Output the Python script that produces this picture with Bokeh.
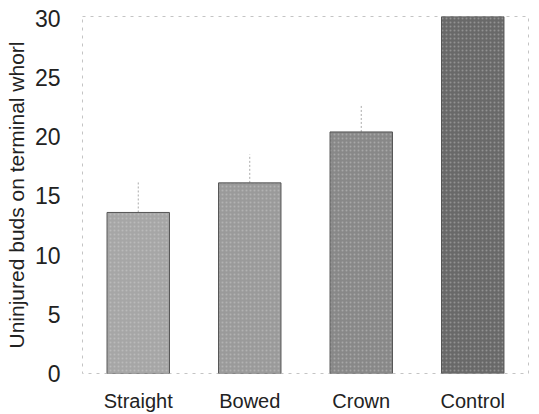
from bokeh.plotting import figure
from bokeh.models import Range1d, FactorRange, ColumnDataSource
from bokeh.embed import file_html
from bokeh.resources import INLINE

categories = ["Straight", "Bowed", "Crown", "Control"]
values = [13.6, 16.1, 20.4, 30.2]
err_upper = [16.2, 18.5, 22.7, 30.2]
bar_colors = ["#a6a6a6", "#9a9a9a", "#888888", "#696969"]
y_ticks = [0, 5, 10, 15, 20, 25, 30]

src = ColumnDataSource(dict(cat=categories, val=values, up=err_upper, color=bar_colors))

p = figure(width=539, height=414, output_backend="svg", toolbar_location=None,
           x_range=FactorRange(*categories, range_padding=0), y_range=Range1d(0, 30.15),
           min_border_left=82, min_border_right=11, min_border_top=16, min_border_bottom=38)
p.background_fill_color = "white"
p.border_fill_color = "white"
p.grid.visible = False
p.outline_line_color = "#c4c4c4"
p.outline_line_dash = "3 5"
p.outline_line_width = 1

p.segment(x0="cat", y0="val", x1="cat", y1="up", source=src,
          line_color="#aaaaaa", line_width=1, line_dash="2 2")

p.vbar(x="cat", top="val", width=0.56, bottom=0, source=src,
       fill_color="color", line_color="#555555", line_width=1,
       hatch_pattern="dot", hatch_color="#e0e0e0", hatch_alpha=0.35, hatch_scale=4)

p.yaxis.ticker = y_ticks
p.yaxis.axis_label = "Uninjured buds on terminal whorl"
p.yaxis.axis_label_text_font = "Liberation Sans"
p.yaxis.axis_label_text_font_style = "normal"
p.yaxis.axis_label_text_font_size = "21px"
p.yaxis.axis_label_text_color = "#222222"
p.yaxis.axis_label_standoff = 4
p.yaxis.major_label_text_font = "Liberation Sans"
p.yaxis.major_label_text_font_size = "23px"
p.yaxis.major_label_text_color = "#222222"
p.yaxis.major_label_standoff = 16
p.yaxis.axis_line_color = None
p.yaxis.major_tick_line_color = None
p.yaxis.minor_tick_line_color = None

p.xaxis.major_label_text_font = "Liberation Sans"
p.xaxis.major_label_text_font_size = "20px"
p.xaxis.major_label_text_color = "#222222"
p.xaxis.major_label_standoff = 10
p.xaxis.axis_line_color = None
p.xaxis.major_tick_line_color = None
p.xaxis.minor_tick_line_color = None

open("out.html", "w").write(file_html(p, INLINE))
